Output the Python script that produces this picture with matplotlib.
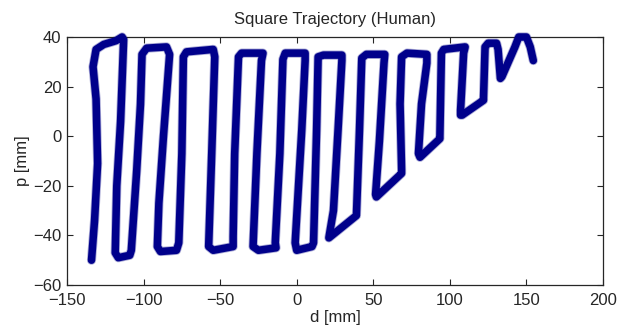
import matplotlib
matplotlib.use("Agg")
import matplotlib.pyplot as plt

# trajectory samples (d [mm], p [mm])
d_mm = [-134, -132, -130, -131, -133, -131, -126, -118, -114, -113,
        -115, -117.5, -118.5, -116.5, -109, -108, -104.5, -102, -101, -98,
        -85, -83, -87, -90, -91, -89, -78.5, -77, -75, -74,
        -72, -54.5, -53.5, -55.5, -57.5, -54.5, -41.5, -41.5, -40.5, -38,
        -36, -22, -23, -26, -28.5, -25, -13.5, -14, -11, -9,
        -7.5, 5.5, 5.5, 3.3, -1, 0, 10, 11, 13, 14,
        17.5, 29.5, 29.5, 27, 24, 21, 39, 41, 42.5, 45.5,
        57.5, 57, 54, 51.5, 52, 68.5, 68.5, 67.5, 68.5, 72,
        85, 85, 81.5, 79.5, 80.5, 93.5, 93.5, 94.5, 96, 110,
        109, 107, 107, 108, 122, 122, 123, 125, 130.5, 131.5,
        133, 134, 142.5, 145, 150, 152.5, 154.5]
p_mm = [-50, -34, -11, 15, 28, 35, 37, 38.5, 40, 39,
        6, -20, -47, -49, -48, -46, -14, 13, 33, 35.5,
        36, 33, 0, -27, -44.5, -46.5, -46, -43, -7, 32,
        34, 35, 32, -7, -44.5, -46, -44.5, -40.5, -7, 32,
        33.5, 33.5, 30.5, -7, -44.5, -46, -45, -43, -7, 31,
        33.5, 33.5, 30.5, 2.5, -43, -46, -44.5, -43, 2.5, 32,
        32.7, 32.7, 30.5, 2.5, -30, -41, -32, 2.5, 31.5, 33,
        33, 29.5, -2, -23.5, -24.5, -15, -13.5, 13, 32, 33.5,
        33, 29.5, 13, -7, -8.5, -1, 0, 33.5, 35, 36,
        33.5, 10.5, 8.5, 8.5, 14.5, 15.5, 36, 37.5, 37.5, 35,
        23.3, 24, 36, 40, 40, 36, 30.5]

x_ticks = [-150, -100, -50, 0, 50, 100, 150, 200]
y_ticks = [-60, -40, -20, 0, 20, 40]

plt.rcParams['font.family'] = ['Liberation Sans', 'DejaVu Sans']
plt.rcParams['font.size'] = 12

fig = plt.figure(figsize=(6.18, 3.33), dpi=100)
ax = fig.add_axes([0.1084, 0.1441, 0.8673, 0.7448])

# soft halo imitating the dense marker edges, then the main line
ax.plot(d_mm, p_mm, color='#4a4aa8', alpha=0.45, linewidth=6.6,
        solid_joinstyle='round', solid_capstyle='round', clip_on=False, zorder=2)
ax.plot(d_mm, p_mm, color='#00008B', linewidth=5.4,
        solid_joinstyle='round', solid_capstyle='round', clip_on=False, zorder=3)

ax.set_xlim(-150, 200)
ax.set_ylim(-60, 40)
ax.set_xticks(x_ticks)
ax.set_yticks(y_ticks)
ax.tick_params(direction='in', top=True, right=True, length=4, width=0.8,
               labelsize=12, colors='#262626')
ax.tick_params(axis='x', pad=6)
ax.tick_params(axis='y', pad=4)
for s in ax.spines.values():
    s.set_linewidth(0.9)
    s.set_color('#262626')

ax.set_title('Square Trajectory (Human)', fontsize=12, pad=9, color='#262626')
ax.set_xlabel('d [mm]', fontsize=12, labelpad=1, color='#262626')
ax.set_ylabel('p [mm]', fontsize=12, labelpad=2, color='#262626')

fig.savefig('out.png', dpi=100)
